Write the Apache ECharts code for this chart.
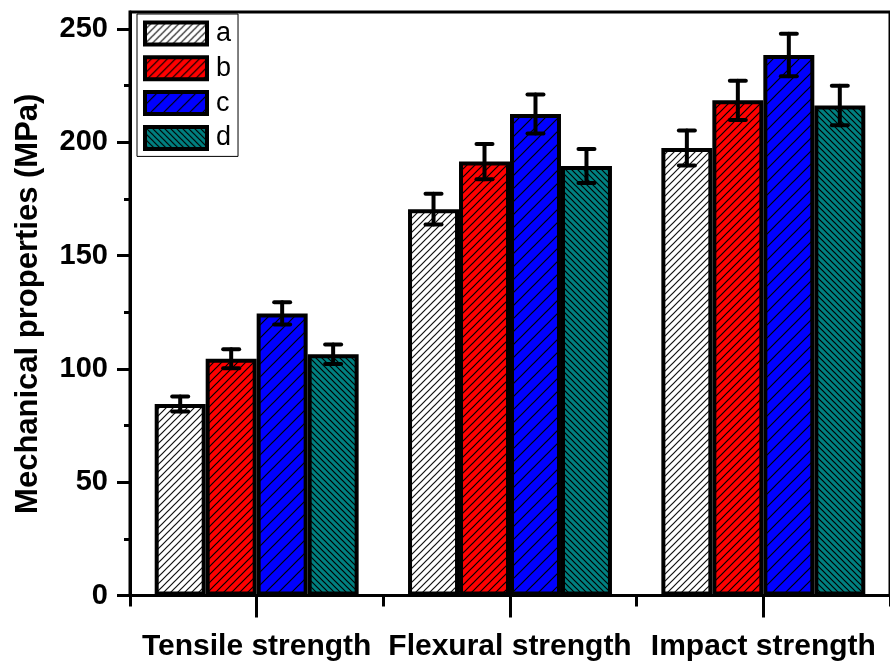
<!DOCTYPE html>
<html>
<head>
<meta charset="utf-8">
<script src="https://cdn.jsdelivr.net/npm/echarts@6/dist/echarts.min.js"></script>
<style>
  html, body { margin: 0; padding: 0; background: #fff; }
  #chart { width: 890px; height: 664px; }
</style>
</head>
<body>
<div id="chart"></div>
<script>
// data
const categories = ['Tensile strength', 'Flexural strength', 'Impact strength'];
const seriesNames = ['a', 'b', 'c', 'd'];
const valuesA = [84.5, 170.5, 197.5];
const valuesB = [104.5, 191.5, 218.5];
const valuesC = [124.5, 212.5, 238.5];
const valuesD = [106.5, 189.5, 216.2];
const errA = [3.3, 6.8, 7.7];
const errB = [4.2, 7.8, 8.7];
const errC = [4.9, 8.6, 9.4];
const errD = [4.3, 7.5, 8.7];
const yTicks = [0, 50, 100, 150, 200, 250];
const yMinorTicks = [25, 75, 125, 175, 225];

const FONT = '"Liberation Sans", Arial, sans-serif';
const CAT_GAP = 0.195;

// hatch fill: '/' or '\' lines on a coloured background
function hatch(bg, size, dir, lineColor) {
  const c = document.createElement('canvas');
  c.width = size;
  c.height = size;
  const ctx = c.getContext('2d');
  ctx.fillStyle = bg;
  ctx.fillRect(0, 0, size, size);
  ctx.strokeStyle = lineColor;
  ctx.lineWidth = 1.2;
  ctx.beginPath();
  if (dir === '/') {
    ctx.moveTo(-1, size + 1); ctx.lineTo(size + 1, -1);
    ctx.moveTo(-1, 1); ctx.lineTo(1, -1);
    ctx.moveTo(size - 1, size + 1); ctx.lineTo(size + 1, size - 1);
  } else {
    ctx.moveTo(-1, -1); ctx.lineTo(size + 1, size + 1);
    ctx.moveTo(size - 1, -1); ctx.lineTo(size + 1, 1);
    ctx.moveTo(-1, size - 1); ctx.lineTo(1, size + 1);
  }
  ctx.stroke();
  return { image: c, repeat: 'repeat' };
}

const fills = [
  hatch('#ffffff', 7, '/', '#111'),
  hatch('#ff0000', 8, '/', '#000'),
  hatch('#0000ff', 13, '/', '#000'),
  hatch('#008080', 6, '\\', '#000'),
];
const allValues = [valuesA, valuesB, valuesC, valuesD];
const allErrs = [errA, errB, errC, errD];

const errData = [];
allValues.forEach((vals, s) => {
  vals.forEach((v, i) => errData.push([i, s, v, allErrs[s][i]]));
});

const chart = echarts.init(document.getElementById('chart'), null, { renderer: 'canvas' });

const barSeries = seriesNames.map((name, s) => ({
  name: name,
  type: 'bar',
  data: allValues[s],
  barGap: 0,
  barCategoryGap: (CAT_GAP * 100) + '%',
  itemStyle: { color: fills[s], borderColor: '#000', borderWidth: 4 },
  z: 2,
}));

chart.setOption({
  animation: false,
  backgroundColor: '#fff',
  grid: {
    left: 130, top: 12, right: -7, bottom: 68.5,
    show: true, borderColor: '#000', borderWidth: 3,
  },
  legend: {
    orient: 'vertical',
    left: 137, top: 14,
    padding: [6, 7, 5, 6],
    icon: 'rect',
    itemWidth: 62, itemHeight: 22, itemGap: 7.8,
    backgroundColor: '#fff',
    borderColor: '#000', borderWidth: 1,
    itemStyle: { borderWidth: 4, borderColor: '#000' },
    textStyle: { fontFamily: FONT, fontSize: 27, color: '#000', lineHeight: 22, padding: [0, 0, 0, 4] },
    data: seriesNames,
  },
  xAxis: [
    {
      type: 'category',
      data: categories,
      axisLine: { show: true, lineStyle: { color: '#000', width: 3 } },
      axisTick: { show: true, length: 11, lineStyle: { color: '#000', width: 3 } },
      axisLabel: { interval: 0, margin: 36, color: '#000', fontFamily: FONT, fontWeight: 'bold', fontSize: 30 },
    },
    {
      type: 'category',
      data: categories,
      position: 'bottom',
      axisLine: { show: false },
      axisTick: { show: true, alignWithLabel: true, length: 22, lineStyle: { color: '#000', width: 3 } },
      axisLabel: { show: false },
    },
  ],
  yAxis: [
    {
      type: 'value',
      min: 0, max: 257.5,
      name: 'Mechanical properties (MPa)',
      nameLocation: 'middle',
      nameGap: 86,
      nameTextStyle: { color: '#000', fontFamily: FONT, fontWeight: 'bold', fontSize: 31 },
      axisLine: { show: true, lineStyle: { color: '#000', width: 3 } },
      axisTick: { show: true, length: 13, customValues: yTicks, lineStyle: { color: '#000', width: 3 } },
      axisLabel: { customValues: yTicks, margin: 22, color: '#000', fontFamily: FONT, fontWeight: 'bold', fontSize: 29 },
      splitLine: { show: false },
    },
    {
      type: 'value',
      min: 0, max: 257.5,
      position: 'left',
      axisLine: { show: false },
      axisTick: { show: true, length: 6, customValues: yMinorTicks, lineStyle: { color: '#000', width: 3 } },
      axisLabel: { show: false },
      splitLine: { show: false },
    },
  ],
  series: barSeries.concat([{
    type: 'custom',
    name: 'err',
    z: 5,
    data: errData,
    renderItem: function (params, api) {
      const cat = api.value(0), s = api.value(1), v = api.value(2), e = api.value(3);
      const bw = api.size([1, 0])[0] * (1 - CAT_GAP) / 4;
      const x = api.coord([cat, 0])[0] + (s - 1.5) * bw;
      const yHi = api.coord([cat, v + e])[1];
      const yLo = api.coord([cat, v - e])[1];
      const cap = 8;
      const st = { stroke: '#000', lineWidth: 4, lineCap: 'round' };
      return {
        type: 'group',
        children: [
          { type: 'line', shape: { x1: x, y1: yHi, x2: x, y2: yLo }, style: st },
          { type: 'line', shape: { x1: x - cap, y1: yHi, x2: x + cap, y2: yHi }, style: st },
          { type: 'line', shape: { x1: x - cap, y1: yLo, x2: x + cap, y2: yLo }, style: st },
        ],
      };
    },
  }]),
});
</script>
</body>
</html>
